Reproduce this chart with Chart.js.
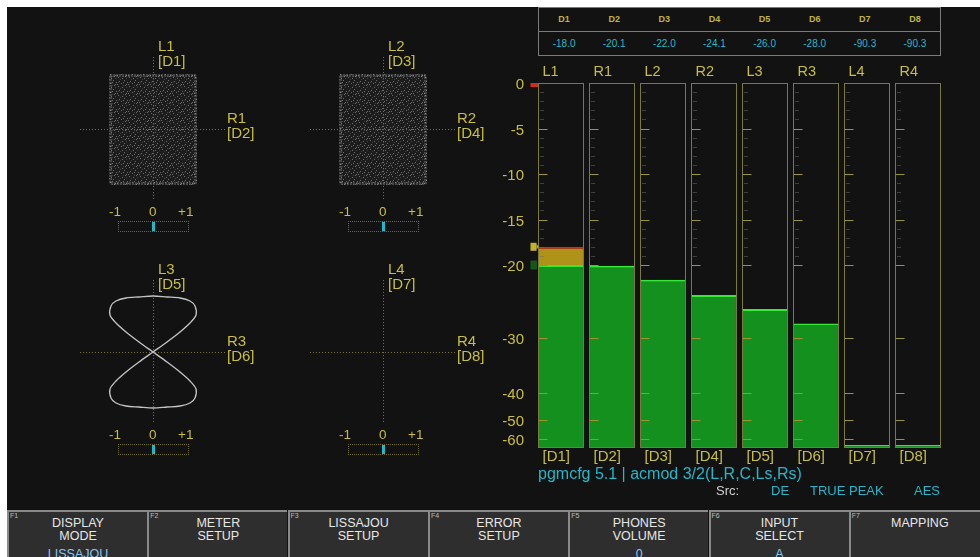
<!DOCTYPE html>
<html>
<head>
<meta charset="utf-8">
<script src="https://cdn.jsdelivr.net/npm/chart.js@4.4.0/dist/chart.umd.min.js"></script>
<style>
  body { margin:0; background:#fff; width:980px; height:557px; overflow:hidden; font-family:'Liberation Sans', Arial, sans-serif; }
  #screen { position:absolute; left:7px; top:7px; width:973px; height:550px; background:#121212; }
  .abs { position:absolute; white-space:nowrap; }
  .yel { color:#c8bf3c; }
  .cyan { color:#24b6c8; }
  .plabel { position:absolute; font-size:15px; line-height:14.5px; color:#c8bf3c; }
  .phase { position:absolute; width:69px; height:9px; border:1px dotted #6e6a2c; }
  .phase i { position:absolute; left:33px; top:0; width:2.5px; height:9px; background:#22b8c8; }
  .btn { position:absolute; top:510px; width:138px; height:50px; background:#2e2e2e; border-left:2px solid #8a8a8a; border-top:2px solid #8a8a8a; color:#e6e6e6; font-size:12.5px; text-align:center; }
  .btn .k { position:absolute; left:1px; top:0; font-size:7px; color:#bdbdbd; }
  .btn .t { position:absolute; left:0; right:0; top:4.5px; line-height:13.5px; }
  .btn .v { position:absolute; left:0; right:0; top:34.5px; line-height:14px; color:#86c6ee; }
  #tbl { position:absolute; left:538px; top:7px; width:403px; height:49px; box-sizing:border-box; border:1.5px solid #7a7a7a; }
  #tbl .row { position:absolute; left:0; right:0; display:flex; }
  #tbl .row div { flex:1; text-align:center; }
</style>
</head>
<body>
<div id="screen"></div>

<div id="tbl">
  <div class="row" id="hdr" style="top:0;height:23px;line-height:23px;font-size:9px;font-weight:bold;color:#c0b53a;border-bottom:1.5px solid #7a7a7a;"></div>
  <div class="row" id="val" style="top:24px;height:23px;line-height:24px;font-size:10px;color:#25b8c8;"></div>
</div>

<canvas id="lis1" class="abs" width="160" height="160" style="left:73px;top:49px"></canvas>
<canvas id="lis2" class="abs" width="160" height="160" style="left:303px;top:49px"></canvas>
<canvas id="lis3" class="abs" width="160" height="160" style="left:73px;top:272px"></canvas>
<canvas id="lis4" class="abs" width="160" height="160" style="left:303px;top:272px"></canvas>

<div id="lisText"></div>

<canvas id="meter" class="abs" width="485" height="420" style="left:495px;top:55px"></canvas>

<div class="abs cyan" style="left:538px;top:465px;font-size:16px;line-height:18px;">pgmcfg 5.1 | acmod 3/2(L,R,C,Ls,Rs)</div>
<div class="abs" style="left:716px;top:483px;font-size:13px;line-height:16px;color:#d2d2d2;">Src:</div>
<div class="abs cyan" style="left:771px;top:483px;font-size:13px;line-height:16px;">DE</div>
<div class="abs cyan" style="left:810px;top:483px;font-size:13px;line-height:16px;">TRUE PEAK</div>
<div class="abs cyan" style="left:914px;top:483px;font-size:13px;line-height:16px;">AES</div>

<div id="buttons"></div>

<script>
// ---- data ----
const channels = ['L1', 'R1', 'L2', 'R2', 'L3', 'R3', 'L4', 'R4'];
const inputs = ['[D1]', '[D2]', '[D3]', '[D4]', '[D5]', '[D6]', '[D7]', '[D8]'];
const inputIds = ['D1', 'D2', 'D3', 'D4', 'D5', 'D6', 'D7', 'D8'];
const levels = [-18.0, -20.1, -22.0, -24.1, -26.0, -28.0, -90.3, -90.3];
const scaleTicks = [0, -5, -10, -15, -20, -30, -40, -50, -60];
const refLevels = [0, -18, -20];
const warnLevel = -20;
const floorLevel = -100;

// lissajou trace of L3/R3 (x = R, y = L)
const figure8 = [
  [0,0],[14,10],[27,20],[37,29],[43,37],[42,46],[37,51],[27,54],[14,55],[0,56],
  [-14,55],[-27,54],[-37,51],[-42,46],[-43,37],[-37,29],[-27,20],[-14,10],[0,0],
  [14,-10],[27,-20],[37,-29],[43,-37],[42,-46],[37,-51],[27,-54],[14,-55],[0,-56],
  [-14,-55],[-27,-54],[-37,-51],[-42,-46],[-43,-37],[-37,-29],[-27,-20],[-14,-10],[0,0]
];
const noiseBox = [-44, 44, -56, 55];

const btnKeys = ['F1', 'F2', 'F3', 'F4', 'F5', 'F6', 'F7'];
const btnTitles = [['DISPLAY', 'MODE'], ['METER', 'SETUP'], ['LISSAJOU', 'SETUP'], ['ERROR', 'SETUP'], ['PHONES', 'VOLUME'], ['INPUT', 'SELECT'], ['MAPPING']];
const btnValues = ['LISSAJOU', '', '', '', '0', 'A', ''];

Chart.defaults.font.family = "'Liberation Sans', Arial, sans-serif";

// ---- top table ----
inputIds.forEach((id, i) => {
  const h = document.createElement('div'); h.textContent = id;
  document.getElementById('hdr').appendChild(h);
  const v = document.createElement('div'); v.textContent = levels[i].toFixed(1);
  document.getElementById('val').appendChild(v);
});

// ---- buttons ----
btnKeys.forEach((k, i) => {
  const b = document.createElement('div');
  b.className = 'btn';
  b.style.left = (7 + i * 140.3) + 'px';
  b.innerHTML = '<span class="k">' + k + '</span><div class="t">' + btnTitles[i].join('<br>') + '</div>' +
    (btnValues[i] ? '<div class="v">' + btnValues[i] + '</div>' : '');
  document.getElementById('buttons').appendChild(b);
});

// ---- lissajou panels ----
const panels = [
  { id: 'lis1', cx: 153, cy: 129, top: ['L1', '[D1]'], side: ['R1', '[D2]'], noise: true,  trace: [] },
  { id: 'lis2', cx: 383, cy: 129, top: ['L2', '[D3]'], side: ['R2', '[D4]'], noise: true,  trace: [] },
  { id: 'lis3', cx: 153, cy: 352, top: ['L3', '[D5]'], side: ['R3', '[D6]'], noise: false, trace: figure8 },
  { id: 'lis4', cx: 383, cy: 352, top: ['L4', '[D7]'], side: ['R4', '[D8]'], noise: false, trace: [] }
];

function noisePattern(ctx) {
  const t = document.createElement('canvas');
  t.width = 11; t.height = 9;
  const c = t.getContext('2d');
  c.fillStyle = 'rgba(210,210,210,0.45)';
  [[1,1],[5,2],[8,0],[2,5],[7,4],[10,6],[0,8],[4,7],[9,8],[6,6]].forEach(p => c.fillRect(p[0], p[1], 1, 1));
  c.fillStyle = 'rgba(210,210,210,0.2)';
  [[3,3],[9,2],[1,6],[6,0]].forEach(p => c.fillRect(p[0], p[1], 1, 1));
  return ctx.createPattern(t, 'repeat');
}

const scopeDecor = {
  id: 'scopeDecor',
  beforeDatasetsDraw(chart, args, opts) {
    const { ctx, scales: { x, y } } = chart;
    ctx.save();
    if (opts.noise) {
      const l = x.getPixelForValue(noiseBox[0]), r = x.getPixelForValue(noiseBox[1]);
      const b = y.getPixelForValue(noiseBox[2]), t = y.getPixelForValue(noiseBox[3]);
      ctx.fillStyle = 'rgba(150,150,150,0.08)';
      ctx.fillRect(l, t, r - l, b - t);
      ctx.fillStyle = noisePattern(ctx);
      ctx.fillRect(l, t, r - l, b - t);
      ctx.strokeStyle = 'rgba(215,215,215,0.45)';
      ctx.lineWidth = 3;
      ctx.setLineDash([1, 2]);
      ctx.strokeRect(l + 1.5, t + 1.5, r - l - 3, b - t - 3);
      ctx.setLineDash([]);
    }
    ctx.strokeStyle = '#77732e';
    ctx.lineWidth = 1;
    ctx.setLineDash([1, 2]);
    const x0 = Math.round(x.getPixelForValue(0)) + 0.5;
    const y0 = Math.round(y.getPixelForValue(0)) + 0.5;
    ctx.beginPath();
    ctx.moveTo(x0, y.getPixelForValue(72)); ctx.lineTo(x0, y.getPixelForValue(-72));
    ctx.moveTo(x.getPixelForValue(-73), y0); ctx.lineTo(x.getPixelForValue(72), y0);
    ctx.stroke();
    ctx.restore();
  }
};

const lisText = document.getElementById('lisText');
panels.forEach(p => {
  new Chart(document.getElementById(p.id), {
    type: 'scatter',
    data: {
      datasets: [{
        data: p.trace.map(d => ({ x: d[0], y: d[1] })),
        showLine: true,
        borderColor: '#c4c4c4',
        borderWidth: 1.3,
        pointRadius: 0,
        tension: 0.3
      }]
    },
    options: {
      responsive: false,
      animation: false,
      events: [],
      layout: { padding: 0 },
      scales: {
        x: { type: 'linear', min: -80, max: 80, display: false },
        y: { type: 'linear', min: -80, max: 80, display: false }
      },
      plugins: { legend: { display: false }, tooltip: { enabled: false }, scopeDecor: { noise: p.noise } }
    },
    plugins: [scopeDecor]
  });
  const top = document.createElement('div');
  top.className = 'plabel';
  top.style.left = (p.cx + 5) + 'px';
  top.style.top = (p.cy - 90) + 'px';
  top.innerHTML = p.top.join('<br>');
  lisText.appendChild(top);
  const side = document.createElement('div');
  side.className = 'plabel';
  side.style.left = (p.cx + 74) + 'px';
  side.style.top = (p.cy - 18) + 'px';
  side.innerHTML = p.side.join('<br>');
  lisText.appendChild(side);
  const dy = p.cy + 83;
  [['-1', -44], ['0', -4], ['+1', 25]].forEach(s => {
    const d = document.createElement('div');
    d.className = 'abs yel';
    d.style.cssText += ';font-size:13.5px;line-height:16px;left:' + (p.cx + s[1]) + 'px;top:' + (dy - 8) + 'px';
    d.textContent = s[0];
    lisText.appendChild(d);
  });
  const ph = document.createElement('div');
  ph.className = 'phase';
  ph.style.left = (p.cx - 35) + 'px';
  ph.style.top = (p.cy + 92) + 'px';
  ph.innerHTML = '<i></i>';
  lisText.appendChild(ph);
});

// ---- meter scale: 9 px/dB down to -20, compressed below ----
const dbStops = [0, -20, -30, -40, -50, -60, -90, -100];
const fracStops = [0, 0.5, 0.701, 0.851, 0.926, 0.978, 0.9945, 1];
function dbToFrac(v) {
  if (v >= dbStops[0]) return 0;
  for (let i = 1; i < dbStops.length; i++) {
    if (v >= dbStops[i]) {
      const k = (dbStops[i - 1] - v) / (dbStops[i - 1] - dbStops[i]);
      return fracStops[i - 1] + k * (fracStops[i] - fracStops[i - 1]);
    }
  }
  return 1;
}
class MeterScale extends Chart.LinearScale {
  getPixelForValue(v) {
    return this.top + dbToFrac(v) * (this.bottom - this.top);
  }
}
MeterScale.id = 'meter';
MeterScale.defaults = {};
Chart.register(MeterScale);

const meterDecor = {
  id: 'meterDecor',
  afterDatasetsDraw(chart) {
    const { ctx, chartArea: a, scales: { x, y } } = chart;
    ctx.save();
    const top = Math.round(a.top) + 0.5, h = Math.round(a.bottom - a.top);
    let firstLeft = 0;
    channels.forEach((c, i) => {
      const l = Math.round(x.getPixelForValue(i) - 22.5) + 0.5;
      if (i === 0) firstLeft = l;
      ctx.lineWidth = 1;
      ctx.strokeStyle = '#6a6a6a';
      ctx.setLineDash([1, 1]);
      for (let db = -1; db > warnLevel; db--) {
        if (db % 5 === 0) continue;
        const py = Math.round(y.getPixelForValue(db)) + 0.5;
        ctx.beginPath(); ctx.moveTo(l + 2, py); ctx.lineTo(l + 6, py); ctx.stroke();
      }
      ctx.setLineDash([]);
      ctx.strokeStyle = '#9a962e';
      scaleTicks.forEach(db => {
        if (db === 0) return;
        const py = Math.round(y.getPixelForValue(db)) + 0.5;
        ctx.beginPath(); ctx.moveTo(l, py); ctx.lineTo(l + 9, py); ctx.stroke();
      });
      ctx.strokeStyle = '#7c7a3a';
      ctx.strokeRect(l, top, 45, h);
    });
    // reference markers beside the scale
    const mx = firstLeft - 8;
    const p0 = y.getPixelForValue(refLevels[0]);
    ctx.fillStyle = '#d22a1e';
    ctx.fillRect(mx, p0, 7.5, 4);
    const p1 = y.getPixelForValue(refLevels[1]);
    ctx.fillStyle = '#c2b22a';
    ctx.fillRect(mx, p1 - 4, 6, 8);
    ctx.beginPath(); ctx.moveTo(mx + 6, p1 - 3); ctx.lineTo(mx + 8, p1); ctx.lineTo(mx + 6, p1 + 3); ctx.fill();
    const p2 = y.getPixelForValue(refLevels[2]);
    ctx.fillStyle = '#17561a';
    ctx.fillRect(mx, p2 - 4.5, 6.5, 9);
    ctx.restore();
  }
};

const yellow = '#c8bf3c';
new Chart(document.getElementById('meter'), {
  type: 'bar',
  data: {
    labels: inputs,
    datasets: [
      {
        label: 'level',
        data: levels.map(v => [floorLevel, Math.min(v, warnLevel)]),
        backgroundColor: '#14901f',
        borderColor: '#38e838',
        borderWidth: { top: 2, left: 0, right: 0, bottom: 0 },
        borderSkipped: false,
        grouped: false,
        barPercentage: 0.882,
        categoryPercentage: 1
      },
      {
        label: 'over',
        data: levels.map(v => v > warnLevel ? [warnLevel, v] : null),
        backgroundColor: '#b09218',
        borderColor: '#d42a1a',
        borderWidth: { top: 2, left: 0, right: 0, bottom: 0 },
        borderSkipped: false,
        grouped: false,
        barPercentage: 0.882,
        categoryPercentage: 1
      }
    ]
  },
  options: {
    responsive: false,
    animation: false,
    events: [],
    layout: { padding: { left: 0, right: 37, top: 0, bottom: 0 } },
    plugins: { legend: { display: false }, tooltip: { enabled: false } },
    scales: {
      x: {
        type: 'category',
        position: 'bottom',
        offset: true,
        grid: { display: false, drawTicks: false },
        border: { display: false },
        ticks: { color: yellow, font: { size: 15, lineHeight: 1 }, align: 'start', labelOffset: -18, padding: 2, autoSkip: false, maxRotation: 0 },
        afterFit(s) { s.height = 28; }
      },
      x2: {
        type: 'category',
        position: 'top',
        labels: channels,
        offset: true,
        grid: { display: false, drawTicks: false },
        border: { display: false },
        ticks: { color: yellow, font: { size: 14.5, lineHeight: 1 }, align: 'start', labelOffset: -18, padding: 4, autoSkip: false, maxRotation: 0 },
        afterFit(s) { s.height = 28; }
      },
      y: {
        type: 'meter',
        min: floorLevel,
        max: 0,
        grid: { display: false, drawTicks: false },
        border: { display: false },
        afterBuildTicks(s) { s.ticks = scaleTicks.map(v => ({ value: v })); },
        ticks: { color: yellow, font: { size: 15 }, padding: 11, labelOffset: 2, autoSkip: false, callback: v => String(v) },
        afterFit(s) { s.width = 40; }
      }
    }
  },
  plugins: [meterDecor]
});
</script>
</body>
</html>
